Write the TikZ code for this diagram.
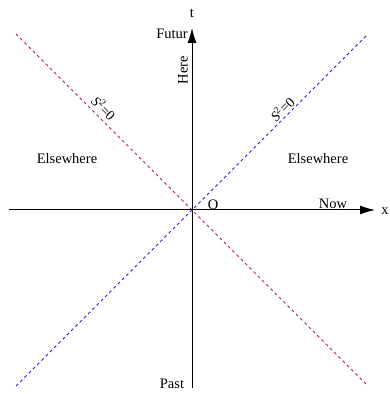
\documentclass[tikz,border=0pt]{standalone}
\usepackage{fontspec}
\setmainfont{Liberation Serif}
\usetikzlibrary{arrows.meta}
\definecolor{conered}{RGB}{190,20,100}
\definecolor{coneblue}{RGB}{30,30,230}
\begin{document}
\begin{tikzpicture}[x=1pt,y=1pt,
  axis/.style={line width=1pt,-{Latex[length=15pt,width=9pt]}},
  cone/.style={line width=0.8pt,dash pattern=on 3pt off 3pt},
  lbl/.style={font=\fontsize{14.5}{16}\selectfont,inner sep=0pt},
  slbl/.style={font=\fontsize{14}{16}\selectfont,inner sep=0pt}]
\useasboundingbox (0,0) rectangle (389,394);
\coordinate (O) at (192,184);
\coordinate (xs) at (9,184);
\coordinate (xe) at (375,184);
\coordinate (ts) at (192,6);
\coordinate (te) at (192,366);
\coordinate (r1) at (16,360);
\coordinate (r2) at (368,8);
\coordinate (b1) at (16,8);
\coordinate (b2) at (368,360);
\draw[cone,conered] (r1) -- (r2);
\draw[cone,coneblue] (b1) -- (b2);
\draw[axis] (xs) -- (xe);
\draw[axis] (ts) -- (te);
\node[lbl] (t) at (192,381) {t};
\node[lbl] (fut) at (172,360) {Futur};
\node[lbl,rotate=90] (here) at (183,324) {Here};
\node[slbl,rotate=-45] (sl) at (104,286) {\textit{S}\textsuperscript{2}=0};
\node[slbl,rotate=45] (sr) at (282,285) {\textit{S}\textsuperscript{2}=0};
\node[lbl] (el) at (67,235) {Elsewhere};
\node[lbl] (er) at (318,235) {Elsewhere};
\node[lbl] (o) at (213,189) {O};
\node[lbl] (now) at (333,190) {Now};
\node[lbl] (x) at (385,183) {x};
\node[lbl] (past) at (172,10) {Past};
\end{tikzpicture}
\end{document}
